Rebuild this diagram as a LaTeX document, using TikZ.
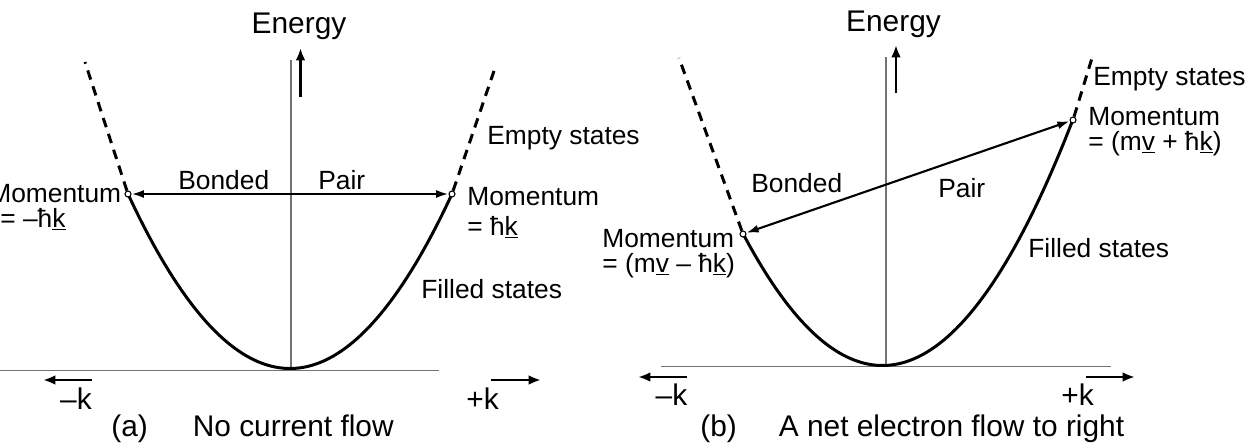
\documentclass[tikz,border=0pt]{standalone}
\usepackage{fontspec}
\setmainfont{Liberation Sans}
\usetikzlibrary{arrows.meta}
\newcommand{\lblfont}{\fontsize{15}{14}\selectfont}
\newcommand{\capfont}{\fontsize{17}{20}\selectfont}
\tikzset{
  band/.style={line width=1.7pt, draw=black},
  emptyband/.style={band, dash pattern=on 5.5pt off 4pt},
  axis/.style={line width=0.85pt, draw=black!55},
  kdir/.style={-{Latex[length=7pt,width=5.5pt]}, line width=1.6pt},
  pairarr/.style={{Latex[length=7pt,width=4.5pt]}-{Latex[length=7pt,width=4.5pt]}, line width=1.2pt},
  state/.style={circle, draw=black, fill=white, line width=0.6pt,
                minimum size=0.12cm, inner sep=0pt},
  lbl/.style={font=\lblfont, inner sep=0pt, align=left},
  captxt/.style={font=\capfont, inner sep=0pt},
}

\begin{document}
\begin{tikzpicture}[x=0.02cm, y=-0.02cm]
  \useasboundingbox (0,0) rectangle (1251,447);
  % ---------- (a) no current ----------
  \coordinate (aTop) at (291,60);
  \coordinate (aO) at (291,370.5);
  \coordinate (aL) at (0,370.5);
  \coordinate (aR) at (439,370.5);
  \draw[axis] (aTop) -- (aO);
  \draw[axis] (aL) -- (aR);
  \draw[band] plot[domain=-1.62:1.62, samples=80] ({290+100*\x},{368.5-66.5*\x*\x});
  \node[state] (aP1) at (128,194) {};
  \node[state] (aP2) at (452,194) {};
  \coordinate (aD1) at (85,62);
  \coordinate (aD2) at (495,68);
  \draw[emptyband] (aP1) -- (aD1);
  \draw[emptyband] (aP2) -- (aD2);
  \draw[pairarr] (aP1) -- (aP2);
  % energy and k directions
  \node[captxt, anchor=base] (aEn) at (299,33) {Energy};
  \coordinate (aE0) at (300.5,97); \coordinate (aE1) at (300.5,48);
  \draw[kdir] (aE0) -- (aE1);
  \coordinate (aK0) at (92,380); \coordinate (aK1) at (43,380);
  \draw[kdir] (aK0) -- (aK1);
  \coordinate (aK2) at (491,380); \coordinate (aK3) at (541,380);
  \draw[kdir] (aK2) -- (aK3);
  \node[captxt, anchor=base] (aKm) at (76,409) {–k};
  \node[captxt, anchor=base west] (aKp) at (466,409) {+k};
  % labels (base = last line)
  \node[lbl, anchor=base west] (aBo) at (178,189) {Bonded};
  \node[lbl, anchor=base west] (aPa) at (318,189) {Pair};
  \node[lbl, anchor=base west] (aEm) at (487,144) {Empty states};
  \node[lbl, anchor=base west] (aFi) at (421,298) {Filled states};
  \node[lbl, anchor=base west] (aM1) at (-11,227) {Momentum\\\hspace{0.22cm}= –ħ\underline{k}};
  \node[lbl, anchor=base west] (aM2) at (467,235) {Momentum\\[3pt]= ħ\underline{k}};
  \node[captxt, anchor=base west] (aCap) at (111,436) {(a)\hspace{0.9cm}No current flow};
  % ---------- (b) net flow ----------
  \coordinate (bTop) at (886,57);
  \coordinate (bO) at (886,366.7);
  \coordinate (bL) at (661,366.7);
  \coordinate (bR) at (1111,366.7);
  \draw[axis] (bTop) -- (bO);
  \draw[axis] (bL) -- (bR);
  \draw[band] plot[domain=-1.395:1.905, samples=80] ({882.5+100*\x},{365.5-67.8*\x*\x});
  \node[state] (bP1) at (743,234) {};
  \node[state] (bP2) at (1073,120) {};
  \coordinate (bD1) at (679,58);
  \coordinate (bD2) at (1092,58);
  \draw[emptyband] (bP1) -- (bD1);
  \draw[emptyband] (bP2) -- (bD2);
  \draw[pairarr] (bP1) -- (bP2);
  % energy and k directions
  \node[captxt, anchor=base] (bEn) at (893.5,31) {Energy};
  \coordinate (bE0) at (896,93); \coordinate (bE1) at (896,45);
  \draw[kdir] (bE0) -- (bE1);
  \coordinate (bK0) at (687,377); \coordinate (bK1) at (638,377);
  \draw[kdir] (bK0) -- (bK1);
  \coordinate (bK2) at (1086,377); \coordinate (bK3) at (1135,377);
  \draw[kdir] (bK2) -- (bK3);
  \node[captxt, anchor=base] (bKm) at (671.5,405) {–k};
  \node[captxt, anchor=base west] (bKp) at (1061,405) {+k};
  % labels (base = last line)
  \node[lbl, anchor=base west] (bBo) at (751,192) {Bonded};
  \node[lbl, anchor=base west] (bPa) at (938,197) {Pair};
  \node[lbl, anchor=base west] (bEm) at (1093,85) {Empty states};
  \node[lbl, anchor=base west] (bFi) at (1028,257) {Filled states};
  \node[lbl, anchor=base west] (bM1) at (602,272) {Momentum\\= (m\underline{v} – ħ\underline{k})};
  \node[lbl, anchor=base west] (bM2) at (1088,150) {Momentum\\= (m\underline{v} + ħ\underline{k})};
  \node[captxt, anchor=base west] (bCap) at (700,436) {(b)\hspace{0.84cm}A net electron flow to right};
\end{tikzpicture}
\end{document}
